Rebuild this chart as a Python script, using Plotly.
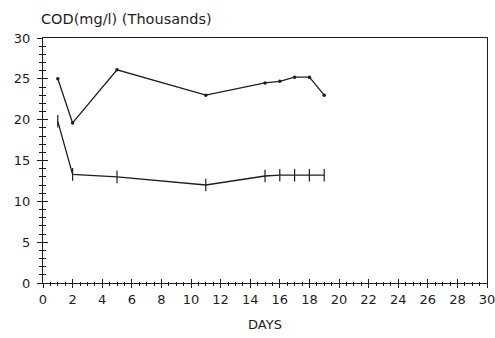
import plotly.graph_objects as go

days = [1, 2, 5, 11, 15, 16, 17, 18, 19]
cod_upper = [25.0, 19.6, 26.1, 23.0, 24.5, 24.7, 25.2, 25.2, 23.0]
cod_lower = [19.8, 13.3, 13.0, 12.0, 13.1, 13.2, 13.2, 13.2, 13.2]
x_ticks = list(range(0, 31, 2))
y_ticks = list(range(0, 31, 5))

ink = "#1e1e1e"
font = dict(family="DejaVu Sans, Liberation Sans, sans-serif", size=13, color=ink)

fig = go.Figure()
fig.add_trace(go.Scatter(
    x=days, y=cod_upper, mode="lines+markers",
    line=dict(color=ink, width=1.3),
    marker=dict(symbol="circle", size=3.5, color=ink),
    showlegend=False))
fig.add_trace(go.Scatter(
    x=days, y=cod_lower, mode="lines+markers",
    line=dict(color=ink, width=1.3),
    marker=dict(symbol="line-ns-open", size=9, line=dict(color=ink, width=1.2)),
    showlegend=False))
# helper invisible trace to carry the crossing (inside) ticks
fig.add_trace(go.Scatter(x=[0], y=[0], xaxis="x2", yaxis="y2", mode="markers",
                         marker=dict(opacity=0), showlegend=False, hoverinfo="skip"))

axis_common = dict(showgrid=False, zeroline=False, linecolor=ink, linewidth=1.2,
                   tickcolor=ink, tickwidth=1.2, automargin=False,
                   ticklabeloverflow="allow")

fig.update_layout(
    width=495, height=338,
    margin=dict(l=43, r=8, t=38, b=55),
    paper_bgcolor="white", plot_bgcolor="white",
    font=font,
    xaxis=dict(range=[0, 30], tickvals=x_ticks, ticks="outside", ticklen=4,
               showline=True, mirror=True,
               minor=dict(dtick=0.5, ticks="outside", ticklen=2, tickcolor=ink, tickwidth=1),
               title=dict(text="DAYS", standoff=14, font=font), **axis_common),
    yaxis=dict(range=[0, 30], tickvals=y_ticks, ticks="outside", ticklen=5,
               showline=True, mirror=True, ticklabelstandoff=4,
               minor=dict(dtick=1, ticks="outside", ticklen=3, tickcolor=ink, tickwidth=1),
               **axis_common),
    xaxis2=dict(range=[0, 30], overlaying="x", tickvals=x_ticks, ticks="inside", ticklen=4,
                showticklabels=False, showline=False, automargin=False,
                minor=dict(dtick=0.5, ticks="inside", ticklen=1, tickcolor=ink, tickwidth=1),
                showgrid=False, zeroline=False, tickcolor=ink, tickwidth=1.2),
    yaxis2=dict(range=[0, 30], overlaying="y", tickvals=y_ticks, ticks="inside", ticklen=5,
                showticklabels=False, showline=False, automargin=False,
                minor=dict(dtick=1, ticks="inside", ticklen=3, tickcolor=ink, tickwidth=1),
                showgrid=False, zeroline=False, tickcolor=ink, tickwidth=1.2),
    annotations=[dict(text="COD(mg/l) (Thousands)", xref="paper", yref="paper",
                      x=-0.01, y=1.035, xanchor="left", yanchor="bottom",
                      showarrow=False, font=dict(font, size=14.5))],
)

fig.write_html("out.html")
